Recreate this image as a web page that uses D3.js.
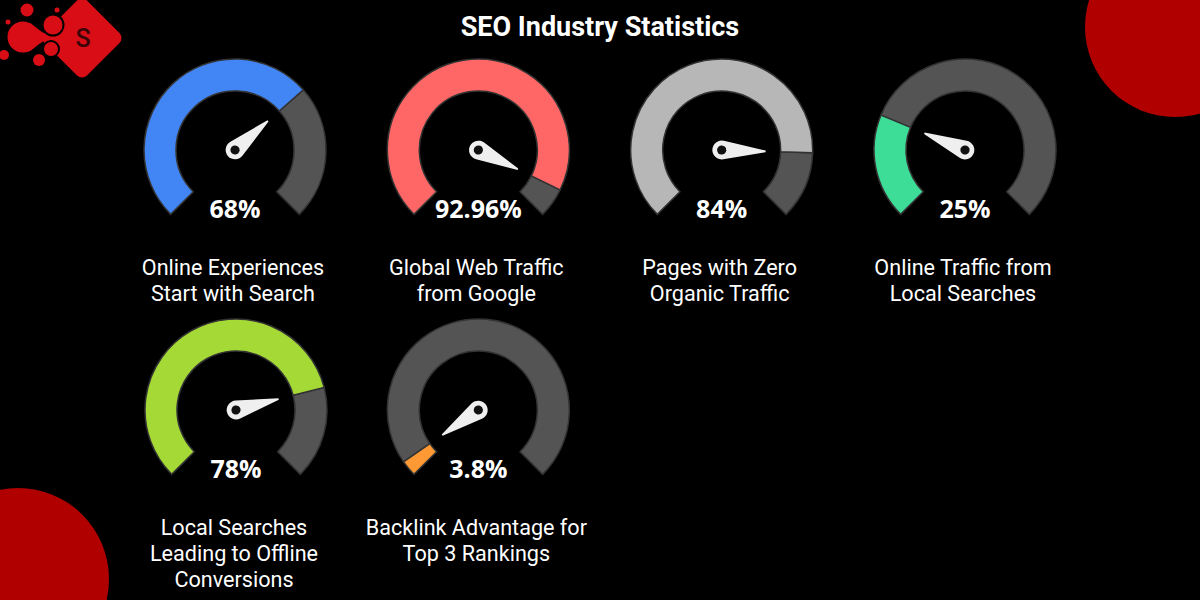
<!DOCTYPE html>
<html>
<head>
<meta charset="utf-8">
<script src="https://cdn.jsdelivr.net/npm/d3@7"></script>
<style>
html, body { margin: 0; padding: 0; background: #000; overflow: hidden; }
text { font-family: Roboto, sans-serif; fill: #fff; }
</style>
</head>
<body>
<div id="chart"></div>
<script>
const labels = [
    ["Online Experiences", "Start with Search"],
    ["Global Web Traffic", "from Google"],
    ["Pages with Zero", "Organic Traffic"],
    ["Online Traffic from", "Local Searches"],
    ["Local Searches", "Leading to Offline", "Conversions"],
    ["Backlink Advantage for", "Top 3 Rankings"]
];
const values = [68, 92.96, 84, 25, 78, 3.8];
const colors = ["#4285f4", "#ff6666", "#b7b7b7", "#3ddc97", "#a4d936", "#ff9933"];

const width = 1200, height = 600;
const outer = 91, inner = 59;
const trackColor = "#545454";

const svg = d3.select("#chart").append("svg").attr("width", width).attr("height", height);
svg.append("rect").attr("width", width).attr("height", height).attr("fill", "#000");

// corner blobs
svg.append("circle").attr("cx", 1175).attr("cy", 27).attr("r", 90).attr("fill", "#b00000");
svg.append("circle").attr("cx", 18).attr("cy", 579).attr("r", 91).attr("fill", "#b00000");

drawLogo();

svg.append("text")
    .attr("x", 600).attr("y", 36)
    .attr("text-anchor", "middle")
    .style("font-size", "27px")
    .style("font-weight", 700)
    .text("SEO Industry Statistics");

const angle = d3.scaleLinear().domain([0, 100]).range([-135, 135]);
const arc = d3.arc().innerRadius(inner).outerRadius(outer);
const col = d3.scalePoint().domain([0, 1, 2, 3]).range([235, 965]);
const row = d3.scalePoint().domain([0, 1]).range([150, 410]);

values.forEach((v, i) => {
    const g = svg.append("g")
        .attr("transform", `translate(${col(i % 4) + (i == 4 ? 1 : 0)}, ${row(Math.floor(i / 4))})`);
    const a = angle(v) * Math.PI / 180;

    g.append("path")
        .attr("d", arc({startAngle: a, endAngle: angle(100) * Math.PI / 180}))
        .attr("fill", trackColor).attr("stroke", "#333").attr("stroke-width", 1.5);
    g.append("path")
        .attr("d", arc({startAngle: angle(0) * Math.PI / 180, endAngle: a}))
        .attr("fill", colors[i]).attr("stroke", "#333").attr("stroke-width", 1.5);

    // needle, drawn pointing up then rotated
    const needle = g.append("g").attr("transform", `rotate(${angle(v)})`);
    needle.append("path")
        .attr("d", "M-9.2,-2 L-0.8,-44 L0.8,-44 L9.2,-2 A9.4,9.4 0 1 1 -9.2,-2 Z")
        .attr("fill", "#efefef");
    needle.append("circle").attr("r", 4.6).attr("fill", "#111");

    g.append("text")
        .attr("y", 67.5)
        .attr("text-anchor", "middle")
        .style("font-family", "'Open Sans', sans-serif")
        .style("font-size", "25px")
        .style("font-weight", 700)
        .text(v + "%");

    labels[i].forEach((line, j) => {
        g.append("text")
            .attr("y", 124.5 + j * 26)
            .attr("x", -2)
            .attr("text-anchor", "middle")
            .style("font-size", "21.6px")
            .text(line);
    });
});

function drawLogo() {
    const logo = svg.append("g");
    const red = "#d90d16";
    logo.append("rect")
        .attr("x", -30).attr("y", -30).attr("width", 60).attr("height", 60).attr("rx", 7)
        .attr("transform", "translate(82, 38) rotate(45)")
        .attr("fill", red);
    // neck between the big blob and the diamond
    logo.append("path").attr("d", "M30,23 Q40,31 50,37 Q40,43 30,51 Z").attr("fill", red);
    const blobs = [[23, 37, 15.5], [53, 25, 10.5], [27, 10, 6.5], [51, 49, 8], [39, 60, 6], [4, 55, 5], [57, 10, 2.5], [8, 22, 2.5]];
    logo.selectAll(".blob").data(blobs).enter().append("circle")
        .attr("cx", d => d[0]).attr("cy", d => d[1]).attr("r", d => d[2])
        .attr("fill", red)
        .attr("stroke", (d, i) => (i == 1 || i == 3) ? "#000" : "none")
        .attr("stroke-width", 2);
    logo.append("text")
        .attr("x", 83).attr("y", 47)
        .attr("text-anchor", "middle")
        .style("font-size", "25px").style("font-weight", 500)
        .style("fill", "#3a0508")
        .text("S");
}
</script>
</body>
</html>
